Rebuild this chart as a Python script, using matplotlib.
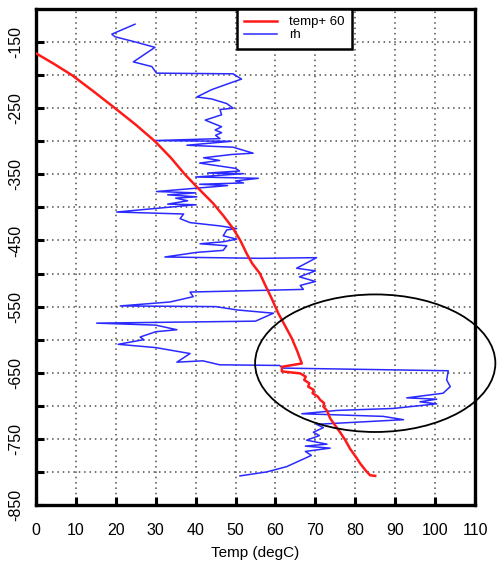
import numpy as np
import matplotlib
matplotlib.use("Agg")
import matplotlib.pyplot as plt
from matplotlib.patches import Ellipse

plt.rcParams['font.family'] = ['Liberation Sans', 'DejaVu Sans']

# ---------------------------
# DATA
# ---------------------------
# temp + 60 profile
temp_x = [0.0, 4.5, 9.0, 14.5, 19.8, 25.0, 29.8, 33.8, 37.3, 40.3, 44.4, 47.0,
          49.4, 51.2, 52.8, 54.2, 56.1, 57.4, 59.0, 60.7, 62.5, 64.1, 65.5,
          66.6, 61.6, 61.6, 66.2, 67.6, 67.2, 68.5, 68.2, 69.6, 69.3, 70.6,
          71.2, 72.2, 72.0, 73.0, 73.7, 75.0, 76.2, 77.5, 78.7, 80.0, 81.2,
          82.5, 83.7, 85.0]
temp_y = [-167, -183, -200, -225, -250, -275, -300, -325, -350, -369, -394, -413,
          -432, -450, -470, -485, -500, -517, -537, -560, -580, -598, -618,
          -636, -641, -648, -651, -656, -661, -666, -671, -676, -681, -686,
          -691, -696, -701, -708, -719, -730, -740, -752, -765, -776, -787,
          -797, -805, -806]

# relative humidity profile
rh_x = [24.8, 19.0, 19.8, 25.0, 29.8, 24.4, 29.0, 30.2, 49.4, 51.5, 48.6,
        44.0, 40.3, 44.0, 47.8, 49.4, 46.1, 46.5, 42.4, 44.4, 46.5, 44.9,
        46.5, 45.0, 46.1, 29.5, 49.0, 37.8, 49.4, 54.4, 49.0, 42.0, 46.0,
        41.0, 45.5, 50.0, 51.0, 43.0, 52.0, 40.0, 55.7, 50.0, 52.0, 41.0,
        48.0, 30.2, 40.0, 33.0, 40.3, 35.0, 38.0, 33.0, 40.0, 20.2, 37.0,
        36.1, 38.6, 46.1, 50.3, 47.8, 46.9, 50.3, 46.9, 41.1, 47.8, 46.9,
        40.3, 32.3, 56.1, 70.3, 65.3, 70.0, 66.0, 70.0, 66.2, 67.0,
        38.6, 39.4, 33.6, 21.1, 45.0, 50.3, 59.5, 55.0, 15.2, 30.0, 35.3, 30.0,
        26.1, 27.0, 20.6, 30.0, 38.6, 35.3, 41.8, 46.0, 61.0, 62.0, 103.3,
        102.9, 103.8, 102.0, 92.9, 100.4, 96.2, 100.4, 89.6, 75.4, 66.6, 87.0,
        92.1, 70.3, 72.0, 69.5, 71.0, 67.8, 72.9, 67.5, 73.7, 67.5, 69.0, 62.8,
        57.8, 51.1]
rh_y = [-123, -138, -142, -150, -158, -180, -187, -197, -198, -206, -212,
        -222, -233, -236, -243, -250, -252, -260, -268, -273, -278, -283,
        -287, -291, -296, -299, -300, -306, -309, -318, -320, -325, -329,
        -333, -337, -341, -345, -348, -349, -354, -356, -360, -363, -365,
        -367, -376, -378, -381, -384, -386, -390, -395, -396, -407, -410,
        -417, -423, -428, -432, -434, -443, -448, -452, -455, -458, -465,
        -468, -475, -477, -476, -492, -496, -505, -512, -518, -524,
        -528, -535, -543, -549, -550, -555, -560, -572, -575, -578, -585, -588,
        -596, -600, -607, -612, -621, -634, -632, -638, -639, -643, -647,
        -661, -671, -681, -688, -690, -694, -697, -704, -707, -712, -716,
        -721, -728, -733, -740, -745, -752, -758, -761, -764, -769, -775, -792,
        -800, -806]

x_ticks = list(range(0, 111, 10))
y_major = list(range(-850, -149, 100))
y_minor = list(range(-800, -199, 100))

# ---------------------------
# PLOT
# ---------------------------
fig = plt.figure(figsize=(4.98, 5.69), dpi=100)
ax = fig.add_axes([36 / 498, 1 - 505 / 569, 439 / 498, 496 / 569])

ax.plot(temp_x, temp_y, color="#ff1a1a", lw=1.8, label="temp+ 60", zorder=4)
ax.plot(rh_x, rh_y, color="#2a2aff", lw=1.1, label="rh", zorder=3)

# circled region
ell = Ellipse((85.0, -635.6), width=60.2, height=208, fill=False,
              edgecolor="black", lw=1.3, clip_on=False, zorder=5)
ax.add_patch(ell)

ax.set_xlim(0, 110)
ax.set_ylim(-850, -100)
ax.set_xticks(x_ticks)
ax.set_yticks(y_major)
ax.set_yticks(y_minor, minor=True)
ax.set_yticklabels([str(v) for v in y_major], rotation=90, va="center")

ax.tick_params(axis="both", which="both", direction="in", length=6, width=2.2,
               labelsize=11.5, top=False, right=False)
ax.tick_params(axis="x", pad=13)
ax.tick_params(axis="y", pad=9)

for s in ax.spines.values():
    s.set_linewidth(2.4)

ax.grid(True, which="both", color="0.3", linestyle=(0, (1, 2.5)), lw=1.1)
ax.set_axisbelow(True)

ax.set_xlabel("Temp (degC)", fontsize=11, labelpad=6)

leg = ax.legend(loc="upper left", bbox_to_anchor=(0.458, 1.0), fontsize=9.5,
                fancybox=False, framealpha=1, edgecolor="black",
                handlelength=2.5, handletextpad=0.9, borderpad=0.55,
                labelspacing=0.05, borderaxespad=0)
leg.get_frame().set_linewidth(1.8)

fig.savefig("out.png", dpi=100)
